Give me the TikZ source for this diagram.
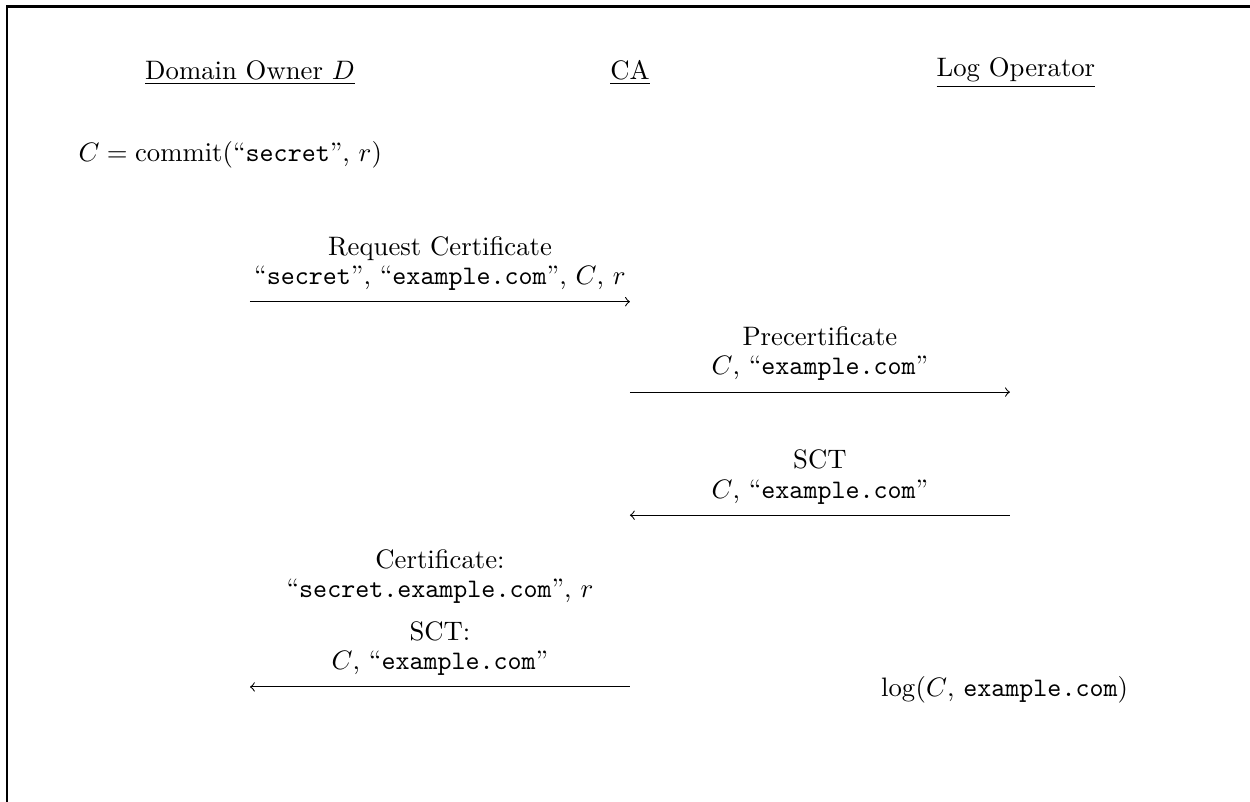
\documentclass[tikz,border=0pt]{standalone}
\usetikzlibrary{calc}
\usetikzlibrary{arrows}

\begin{document}
\begin{tikzpicture}[msg/.style={align=center, inner sep=2pt}]
\useasboundingbox (-3.29,0.96) rectangle (13.16,-9.59);
\coordinate (tl) at (-3.2,0.875);
\coordinate (tr) at (13.2,0.875);
\coordinate (bl) at (-3.2,-9.6);
\draw[thick] (bl)--(tl)--(tr);

\node (d) at (0,0) {\underline{Domain Owner $D$}};
\node (ca) at (5,0) {\underline{CA}};
\node (lo) at (10.08,0) {\underline{Log Operator}};

\node (commit) at (-0.26,-1.08) {$C = \mathrm{commit}(\mbox{``\texttt{secret}'', }r)$};

\coordinate (d1) at (0,-3.01);
\coordinate (ca1) at (5,-3.01);
\draw[->] (d1)--(ca1) node[msg, above=2pt, midway]{Request Certificate\\[-1pt] ``\texttt{secret}'', ``\texttt{example.com}'', $C$, $r$};

\coordinate (ca2) at (5,-4.2);
\coordinate (lo2) at (10,-4.2);
\draw[->] (ca2)--(lo2) node[msg, above=2pt, midway]{Precertificate\\[-1pt] $C$, ``\texttt{example.com}''};

\coordinate (lo3) at (10,-5.82);
\coordinate (ca3) at (5,-5.82);
\draw[->] (lo3)--(ca3) node[msg, above=2pt, midway]{SCT\\[-1pt] $C$, ``\texttt{example.com}''};

\coordinate (ca4) at (5,-8.08);
\coordinate (d4) at (0,-8.08);
\draw[->] (ca4)--(d4) node[msg, above=2pt, midway]{Certificate:\\[-1pt] ``\texttt{secret.example.com}'', $r$\\[4pt] SCT:\\[-1pt] $C$, ``\texttt{example.com}''};

\node (log) at (9.93,-8.12) {$\log(C$, \texttt{example.com}$)$};
\end{tikzpicture}
\end{document}
